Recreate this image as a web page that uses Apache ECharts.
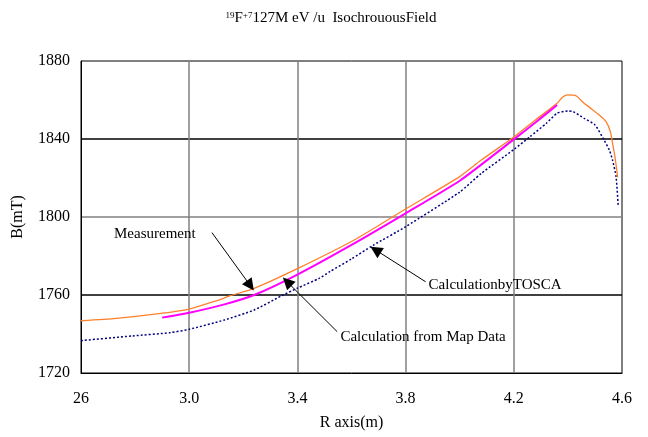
<!DOCTYPE html>
<html>
<head>
<meta charset="utf-8">
<script src="https://cdn.jsdelivr.net/npm/echarts@6/dist/echarts.min.js"></script>
<style>html,body{margin:0;padding:0;background:#fff}#c{width:648px;height:437px}</style>
</head>
<body>
<div id="c"></div>
<script>
// Measurement (orange)
const measR = [2.60, 2.73, 2.88, 3.00, 3.10, 3.15, 3.24, 3.40, 3.61, 3.80, 4.00, 4.08, 4.20, 4.28, 4.36, 4.38, 4.40, 4.43, 4.46, 4.485, 4.516, 4.541, 4.557, 4.565, 4.574, 4.584];
const measB = [1746.8, 1748.0, 1750.3, 1752.8, 1757.0, 1759.5, 1763.4, 1773.5, 1788.2, 1804.1, 1820.7, 1829.2, 1841.0, 1849.8, 1858.3, 1861.4, 1862.6, 1862.2, 1858.3, 1855.7, 1852.3, 1848.9, 1843.8, 1837.8, 1830.9, 1820.3];
// Calculation from Map Data (magenta)
const mapR = [2.90, 3.00, 3.13, 3.24, 3.40, 3.61, 3.80, 4.00, 4.20, 4.28, 4.36];
const mapB = [1748.4, 1750.9, 1755.2, 1760.0, 1770.5, 1786.5, 1801.9, 1818.6, 1839.8, 1848.5, 1857.4];
// Calculation by TOSCA (navy dotted)
const toscaR = [2.60, 2.79, 2.93, 3.00, 3.13, 3.24, 3.34, 3.40, 3.48, 3.52, 3.60, 3.68, 3.80, 4.00, 4.08, 4.20, 4.26, 4.32, 4.36, 4.40, 4.42, 4.46, 4.50, 4.53, 4.553, 4.565, 4.578, 4.586];
const toscaB = [1736.6, 1739.0, 1740.7, 1742.4, 1747.2, 1752.3, 1759.5, 1763.5, 1768.5, 1772.0, 1778.5, 1785.5, 1795.0, 1812.8, 1822.4, 1834.6, 1841.2, 1848.0, 1853.2, 1854.4, 1854.0, 1850.6, 1847.2, 1840.4, 1834.4, 1829.2, 1820.7, 1805.6];
// Axis tick labels
const xTickLabels = ['26', '3.0', '3.4', '3.8', '4.2', '4.6'];
const yTickLabels = ['1720', '1760', '1800', '1840', '1880'];
// Annotations
const annoText = ['Measurement', 'CalculationbyTOSCA', 'Calculation from Map Data'];
const annoTextPos = [[2.722, 1791.3], [3.885, 1765.1], [3.559, 1738.6]];
const annoArrowFrom = [[3.084, 1792.0], [3.874, 1766.8], [3.547, 1741.2]];
const annoArrowTo = [[3.226, 1764.8], [3.689, 1783.1], [3.362, 1766.8]];

const pairs = (xs, ys) => xs.map((x, i) => [x, ys[i]]);
const FONT = 'Liberation Serif';

const chart = echarts.init(document.getElementById('c'), null, {renderer: 'canvas'});
chart.setOption({
  animation: false,
  backgroundColor: '#fff',
  title: {
    text: '{sup|19}{m|F}{sup|+7}{m|127M eV /u  IsochrouousField}',
    left: 326, top: 6, textAlign: 'center',
    textStyle: {
      rich: {
        m: {fontFamily: FONT, fontSize: 15, color: '#000', fontWeight: 'normal'},
        sup: {fontFamily: FONT, fontSize: 9, color: '#000', fontWeight: 'normal', verticalAlign: 'top', padding: [0, 0, 6, 0]}
      }
    }
  },
  grid: {left: 81, right: 26, top: 61, bottom: 64, show: true, borderColor: '#000', borderWidth: 1, backgroundColor: 'transparent'},
  xAxis: {
    type: 'value', min: 2.6, max: 4.6, interval: 0.4,
    name: 'R axis(m)', nameLocation: 'middle', nameGap: 42,
    nameTextStyle: {fontFamily: FONT, fontSize: 16, color: '#000'},
    axisLine: {show: true, onZero: false, lineStyle: {color: '#000', width: 1}},
    axisTick: {show: false},
    axisLabel: {fontFamily: FONT, fontSize: 16, color: '#000', margin: 18,
      formatter: v => xTickLabels[Math.round((v - 2.6) / 0.4)]},
    splitLine: {show: true, showMinLine: false, showMaxLine: false, lineStyle: {color: '#808080', width: 1.5}}
  },
  yAxis: {
    type: 'value', min: 1720, max: 1880, interval: 40,
    name: 'B(mT)', nameLocation: 'middle', nameGap: 55, nameRotate: 90,
    nameTextStyle: {fontFamily: FONT, fontSize: 16, color: '#000'},
    axisLine: {show: true, lineStyle: {color: '#000', width: 1}},
    axisTick: {show: false},
    axisLabel: {fontFamily: FONT, fontSize: 16, color: '#000', margin: 11,
      formatter: v => yTickLabels[Math.round((v - 1720) / 40)]},
    splitLine: {show: true, showMinLine: false, showMaxLine: false,
      lineStyle: {color: ['#000', '#808080', '#000', '#808080', '#000'], width: 1.5}}
  },
  series: [
    {
      name: 'Measurement', type: 'line', data: pairs(measR, measB),
      showSymbol: false, smooth: 0.2, z: 3,
      lineStyle: {color: '#FF7F2A', width: 1.3},
      markLine: {
        silent: true, symbol: ['none', 'triangle'], symbolSize: 12,
        label: {show: false},
        lineStyle: {color: '#000', width: 1, type: 'solid'},
        itemStyle: {color: '#000'},
        emphasis: {disabled: true},
        data: annoArrowFrom.map((f, i) => [{coord: f}, {coord: annoArrowTo[i]}])
      },
      markPoint: {
        silent: true, symbol: 'circle', symbolSize: 0.01,
        itemStyle: {color: 'transparent'},
        label: {show: true, position: 'right', distance: 0, color: '#000', fontFamily: FONT, fontSize: 15,
          formatter: p => p.name},
        data: annoText.map((t, i) => ({name: t, coord: annoTextPos[i]}))
      }
    },
    {
      name: 'Calculation from Map Data', type: 'line', data: pairs(mapR, mapB),
      showSymbol: false, smooth: 0.2, z: 4,
      lineStyle: {color: '#FF00FF', width: 2}
    },
    {
      name: 'Calculation by TOSCA', type: 'line', data: pairs(toscaR, toscaB),
      showSymbol: false, smooth: 0.2, z: 2,
      lineStyle: {color: '#000080', width: 1.5, type: [2, 2]}
    }
  ]
});
</script>
</body>
</html>
